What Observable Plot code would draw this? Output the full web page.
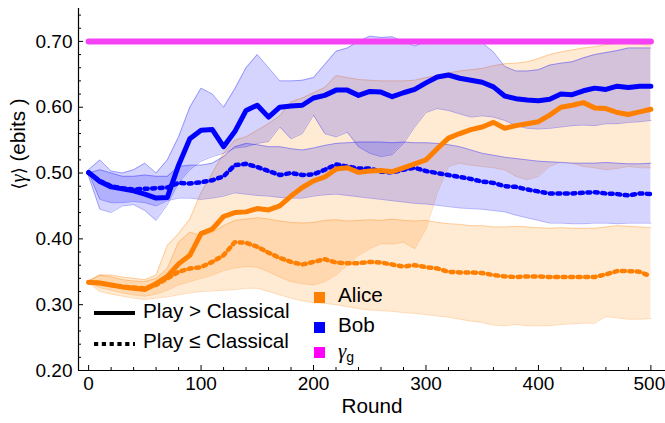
<!DOCTYPE html>
<html><head><meta charset="utf-8">
<script src="https://cdn.jsdelivr.net/npm/d3@7"></script>
<script src="https://cdn.jsdelivr.net/npm/@observablehq/plot@0.6"></script>
<style>html,body{margin:0;padding:0;background:#fff}#chart svg{display:block}</style>
</head><body><div id="chart"></div>
<script>
// ---------- data (every 10 rounds) ----------
const rounds = [0,10,20,30,40,50,60,70,80,90,100,110,120,130,140,150,160,170,180,190,200,210,220,230,240,250,260,270,280,290,300,310,320,330,340,350,360,370,380,390,400,410,420,430,440,450,460,470,480,490,500];

const bobSolid = [0.501,0.487,0.479,0.476,0.473,0.468,0.462,0.463,0.512,0.552,0.565,0.566,0.540,0.563,0.595,0.603,0.585,0.600,0.602,0.603,0.614,0.618,0.626,0.626,0.618,0.624,0.623,0.616,0.622,0.627,0.637,0.646,0.649,0.644,0.641,0.638,0.631,0.617,0.613,0.611,0.610,0.612,0.620,0.619,0.625,0.629,0.627,0.632,0.630,0.632,0.632];
const bobDotted = [0.500,0.488,0.480,0.477,0.475,0.476,0.477,0.478,0.485,0.484,0.486,0.489,0.495,0.512,0.514,0.509,0.503,0.497,0.500,0.497,0.498,0.505,0.513,0.510,0.507,0.507,0.502,0.501,0.505,0.508,0.503,0.500,0.497,0.494,0.491,0.487,0.485,0.480,0.479,0.475,0.472,0.469,0.469,0.469,0.470,0.471,0.469,0.468,0.466,0.469,0.468];
const aliceSolid = [0.334,0.333,0.330,0.327,0.325,0.323,0.332,0.343,0.362,0.375,0.408,0.415,0.434,0.440,0.441,0.446,0.444,0.450,0.465,0.478,0.488,0.494,0.506,0.508,0.501,0.503,0.504,0.502,0.508,0.514,0.520,0.537,0.553,0.560,0.566,0.570,0.577,0.568,0.572,0.575,0.578,0.588,0.600,0.603,0.607,0.599,0.598,0.592,0.589,0.593,0.597];
const aliceDotted = [0.334,0.333,0.330,0.327,0.326,0.325,0.330,0.340,0.350,0.355,0.357,0.365,0.375,0.395,0.394,0.388,0.379,0.371,0.365,0.361,0.365,0.369,0.364,0.363,0.363,0.365,0.364,0.361,0.358,0.360,0.357,0.355,0.350,0.349,0.349,0.348,0.345,0.343,0.342,0.343,0.343,0.342,0.342,0.342,0.342,0.342,0.346,0.351,0.351,0.350,0.343];

// bands (lower / upper)
const bobSolidLo = [0.495,0.445,0.440,0.450,0.452,0.443,0.428,0.452,0.485,0.505,0.518,0.525,0.530,0.538,0.540,0.545,0.548,0.570,0.552,0.560,0.588,0.560,0.555,0.562,0.540,0.530,0.525,0.528,0.545,0.570,0.592,0.598,0.595,0.590,0.585,0.587,0.585,0.580,0.572,0.568,0.567,0.568,0.570,0.572,0.573,0.572,0.575,0.575,0.577,0.578,0.580];
const bobSolidHi = [0.505,0.520,0.503,0.500,0.505,0.515,0.500,0.520,0.555,0.600,0.629,0.620,0.600,0.628,0.660,0.680,0.660,0.640,0.640,0.641,0.645,0.665,0.685,0.690,0.700,0.708,0.706,0.707,0.700,0.693,0.700,0.698,0.700,0.700,0.701,0.698,0.684,0.662,0.655,0.655,0.657,0.664,0.667,0.669,0.675,0.680,0.683,0.686,0.690,0.690,0.690];
const bobDottedLo = [0.500,0.460,0.455,0.455,0.457,0.455,0.450,0.458,0.462,0.462,0.460,0.462,0.465,0.470,0.468,0.466,0.465,0.463,0.462,0.462,0.465,0.467,0.468,0.466,0.464,0.462,0.460,0.458,0.456,0.454,0.453,0.451,0.449,0.447,0.446,0.445,0.443,0.441,0.436,0.432,0.428,0.424,0.424,0.423,0.423,0.424,0.424,0.423,0.424,0.424,0.424];
const bobDottedHi = [0.500,0.505,0.500,0.495,0.495,0.497,0.495,0.495,0.510,0.512,0.512,0.515,0.525,0.540,0.545,0.543,0.540,0.540,0.537,0.535,0.538,0.542,0.545,0.546,0.547,0.547,0.547,0.546,0.547,0.546,0.546,0.545,0.543,0.540,0.535,0.530,0.527,0.524,0.522,0.520,0.518,0.517,0.516,0.515,0.515,0.515,0.516,0.515,0.514,0.514,0.515];
const aliceSolidLo = [0.334,0.326,0.322,0.318,0.315,0.313,0.316,0.322,0.330,0.335,0.340,0.345,0.352,0.356,0.358,0.357,0.350,0.342,0.335,0.332,0.330,0.335,0.345,0.360,0.375,0.385,0.393,0.392,0.395,0.385,0.415,0.470,0.510,0.515,0.512,0.510,0.508,0.505,0.495,0.490,0.495,0.510,0.517,0.515,0.510,0.508,0.505,0.507,0.510,0.508,0.508];
const aliceSolidHi = [0.336,0.345,0.345,0.342,0.340,0.338,0.345,0.390,0.408,0.430,0.470,0.500,0.530,0.550,0.555,0.565,0.575,0.587,0.608,0.614,0.622,0.630,0.648,0.645,0.642,0.641,0.640,0.640,0.640,0.641,0.645,0.648,0.652,0.655,0.657,0.659,0.663,0.666,0.667,0.669,0.674,0.680,0.684,0.687,0.690,0.692,0.695,0.697,0.697,0.696,0.694];
const aliceDottedLo = [0.333,0.320,0.316,0.313,0.310,0.308,0.310,0.312,0.315,0.318,0.320,0.321,0.322,0.323,0.325,0.325,0.320,0.315,0.310,0.306,0.303,0.302,0.300,0.297,0.294,0.292,0.291,0.290,0.288,0.287,0.285,0.283,0.281,0.278,0.275,0.273,0.269,0.268,0.270,0.268,0.268,0.268,0.270,0.271,0.272,0.272,0.282,0.280,0.278,0.278,0.279];
const aliceDottedHi = [0.336,0.345,0.342,0.338,0.336,0.335,0.340,0.355,0.395,0.410,0.405,0.410,0.420,0.428,0.430,0.432,0.430,0.427,0.425,0.424,0.425,0.428,0.429,0.427,0.428,0.429,0.428,0.430,0.428,0.427,0.428,0.425,0.423,0.422,0.420,0.420,0.418,0.418,0.419,0.418,0.417,0.416,0.417,0.416,0.416,0.416,0.418,0.420,0.419,0.418,0.417];

const gammaRounds = [0, 500];
const gammaG = 0.70;

// ticks / labels
const yMajor = [0.20,0.30,0.40,0.50,0.60,0.70];
const yMinor = [0.22,0.24,0.26,0.28,0.32,0.34,0.36,0.38,0.42,0.44,0.46,0.48,0.52,0.54,0.56,0.58,0.62,0.64,0.66,0.68,0.72,0.74];
const xMajor = [0,100,200,300,400,500];
const xMinor = [20,40,60,80,120,140,160,180,220,240,260,280,320,340,360,380,420,440,460,480];
const xTitle = "Round";
const yTitle = "⟨γ⟩ (ebits )";
const styleLabels = ["Play > Classical", "Play ≤ Classical"];
const playerLabels = ["Alice", "Bob"];

// ---------- layout ----------
const W = 665, H = 423;
const mL = 78, mR = 0, mT = 8, mB = 53;
const xDomain = [-9, 513], yDomain = [0.2, 0.75];
const FONT = '"Liberation Sans", Arial, Helvetica, sans-serif';
const ORANGE = "#ff8000", BLUE = "#0000ff", MAGENTA = "#f542f5";
const TICK_FS = 19, TITLE_FS = 20.7;

const rows = rounds.map((r, i) => ({
  r,
  bs: bobSolid[i], bd: bobDotted[i], as: aliceSolid[i], ad: aliceDotted[i],
  bsLo: bobSolidLo[i], bsHi: bobSolidHi[i], bdLo: bobDottedLo[i], bdHi: bobDottedHi[i],
  asLo: aliceSolidLo[i], asHi: aliceSolidHi[i], adLo: aliceDottedLo[i], adHi: aliceDottedHi[i]
}));
const gammaRows = gammaRounds.map(r => ({r, v: gammaG}));

const band = (lo, hi, color) => [
  Plot.areaY(rows, {x: "r", y1: lo, y2: hi, fill: color, fillOpacity: 0.17}),
  Plot.line(rows, {x: "r", y: lo, stroke: color, strokeOpacity: 0.3, strokeWidth: 1}),
  Plot.line(rows, {x: "r", y: hi, stroke: color, strokeOpacity: 0.3, strokeWidth: 1})
];

const frameW = W - mL - mR, frameH = H - mT - mB;

const chart = Plot.plot({
  width: W, height: H,
  marginLeft: mL, marginRight: mR, marginTop: mT, marginBottom: mB,
  style: {fontFamily: FONT, fontSize: TICK_FS + "px", color: "#000", background: "#fff"},
  x: {domain: xDomain},
  y: {domain: yDomain},
  marks: [
    ...band("adLo", "adHi", ORANGE),
    ...band("asLo", "asHi", ORANGE),
    ...band("bdLo", "bdHi", BLUE),
    ...band("bsLo", "bsHi", BLUE),
    Plot.line(gammaRows, {x: "r", y: "v", stroke: MAGENTA, strokeWidth: 6}),
    Plot.line(rows, {x: "r", y: "ad", stroke: ORANGE, strokeWidth: 4.5, strokeDasharray: "3,4.5"}),
    Plot.line(rows, {x: "r", y: "bd", stroke: BLUE, strokeWidth: 4.5, strokeDasharray: "3,4.5"}),
    Plot.line(rows, {x: "r", y: "as", stroke: ORANGE, strokeWidth: 5}),
    Plot.line(rows, {x: "r", y: "bs", stroke: BLUE, strokeWidth: 5}),
    // axes
    Plot.ruleX([xDomain[0]], {stroke: "#000", strokeWidth: 1.2}),
    Plot.ruleY([yDomain[0]], {stroke: "#000", strokeWidth: 1.2}),
    Plot.tickY(yMajor, {insetRight: frameW - 5, stroke: "#000", strokeWidth: 1}),
    Plot.tickY(yMinor, {insetRight: frameW - 3, stroke: "#000", strokeWidth: 1}),
    Plot.tickX(xMajor, {insetTop: frameH - 5, stroke: "#000", strokeWidth: 1}),
    Plot.tickX(xMinor, {insetTop: frameH - 3, stroke: "#000", strokeWidth: 1}),
    Plot.axisY({ticks: yMajor, tickSize: 0, tickPadding: 6, tickFormat: d3.format(".2f"), label: null}),
    Plot.axisX({ticks: xMajor, tickSize: 0, tickPadding: 6, tickFormat: d => String(d), label: null}),
    Plot.text([xTitle], {frameAnchor: "bottom", dy: 42, fontSize: TITLE_FS, fill: "#000"}),
    Plot.text([yTitle], {frameAnchor: "left", dx: -60, rotate: -90, fontSize: TITLE_FS, fill: "#000"})
  ]
});

document.getElementById("chart").appendChild(chart);
const svg = d3.select(chart);

// keep the last x tick label inside the page
svg.selectAll("text").filter(function() { return this.textContent === "500"; }).attr("dx", -1.5);

// y title with italic gamma
svg.selectAll("text").filter(function() { return this.textContent === yTitle; }).each(function() {
  const t = d3.select(this);
  t.text(null);
  t.append("tspan").text("⟨").style("font-family", '"DejaVu Sans", sans-serif').style("font-size", "18px");
  t.append("tspan").text("γ").style("font-family", '"Liberation Serif", "DejaVu Serif", serif').style("font-style", "italic");
  t.append("tspan").text("⟩").style("font-family", '"DejaVu Sans", sans-serif').style("font-size", "18px");
  t.append("tspan").text(" (ebits )");
});

// ---------- legend ----------
const lg = svg.append("g").attr("font-family", FONT).attr("font-size", TITLE_FS)
  .attr("fill", "#000").attr("text-anchor", "start");
lg.append("line").attr("x1", 94).attr("x2", 135).attr("y1", 313).attr("y2", 313)
  .attr("stroke", "#000").attr("stroke-width", 4);
lg.append("text").attr("x", 143).attr("y", 318).text(styleLabels[0]);
lg.append("line").attr("x1", 94).attr("x2", 135).attr("y1", 344).attr("y2", 344)
  .attr("stroke", "#000").attr("stroke-width", 4).attr("stroke-dasharray", "4.2,3.6");
lg.append("text").attr("x", 143).attr("y", 348).text(styleLabels[1]);

const sw = [ORANGE, BLUE, "#ff00ff"];
const swY = [292, 322, 347];
sw.forEach((c, i) => lg.append("rect").attr("x", 314).attr("y", swY[i]).attr("width", 11).attr("height", 11).attr("fill", c));
lg.append("text").attr("x", 338).attr("y", 302).text(playerLabels[0]);
lg.append("text").attr("x", 338).attr("y", 332).text(playerLabels[1]);
const gt = lg.append("text").attr("x", 338).attr("y", 358);
gt.append("tspan").text("γ").style("font-family", '"Liberation Serif", "DejaVu Serif", serif').style("font-style", "italic").attr("font-size", 21);
gt.append("tspan").text("g").attr("font-size", 14).attr("dy", 4);
</script>
</body></html>
